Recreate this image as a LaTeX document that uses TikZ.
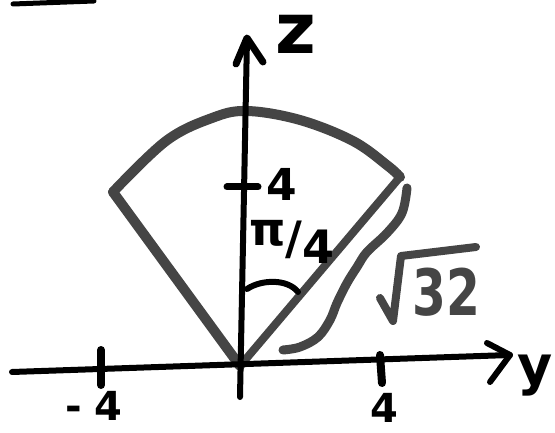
\documentclass[tikz,border=0pt]{standalone}
\usepackage{fontspec}
\setmainfont{DejaVu Sans}
\definecolor{inkgray}{HTML}{454545}
\tikzset{
  ax/.style={line width=6pt, line cap=round, line join=round, black},
  tickmark/.style={line width=8pt, line cap=round, black},
  pen/.style={line width=10pt, line cap=round, line join=round, inkgray},
  lab/.style={inner sep=0pt, font=\bfseries\fontsize{44}{48}\selectfont},
}
\begin{document}
\begin{tikzpicture}[x=1pt, y=-1pt]
\useasboundingbox (0,0) rectangle (555,433);
% named points
\coordinate (O) at (240,366);
\coordinate (L) at (113,192);
\coordinate (R) at (400,177);
\coordinate (T) at (247,111);
\coordinate (a1) at (166,141);
\coordinate (a2) at (212,118);
\coordinate (a3) at (300,120);
\coordinate (a4) at (353,141);
\coordinate (a5) at (388,166);
\coordinate (zb) at (240,397);
\coordinate (zt) at (247,38);
\coordinate (zbl) at (236,64);
\coordinate (zbr) at (263,62);
\coordinate (yl) at (12,372);
\coordinate (yr) at (510,355);
\coordinate (ybu) at (487,343);
\coordinate (ybd) at (490,382);
\coordinate (tm1) at (101,350);
\coordinate (tm2) at (101,385);
\coordinate (tp1) at (380,355);
\coordinate (tp2) at (382,383);
\coordinate (tz1) at (227,187);
\coordinate (tz2) at (258,187);
\coordinate (g1) at (247,289);
\coordinate (g2) at (298,292);
\coordinate (s1) at (13,4);
\coordinate (s2) at (94,1);
% sector
\draw[pen] plot[smooth, tension=0.6] coordinates {(L) (a1) (a2) (T) (a3) (a4) (a5) (R)};
\draw[pen] (L) -- (O);
\draw[pen, line width=8pt] (R) -- (O);
% wavy bracket
\draw[pen, line width=9pt] plot[smooth, tension=0.6] coordinates
  {(407,188) (402,213) (387,233) (367,252) (357,267) (347,283) (337,303) (330,320) (318,337) (300,347) (283,350)};
% radical and 32
\draw[pen, line width=8pt] (380,298) -- (393,321) -- (401,256) -- (476,247);
\node[lab, inkgray, font=\bfseries\fontsize{64}{66}\selectfont, xscale=0.76] (n32) at (446,292) {32};
% axes
\draw[ax] (yl) -- (yr);
\draw[ax] (ybu) -- (yr) -- (ybd);
\draw[ax] (zb) -- (zt);
\draw[ax, line width=7pt] (zbl) -- (zt) -- (zbr);
% ticks
\draw[tickmark] (tm1) -- (tm2);
\draw[tickmark] (tp1) -- (tp2);
\draw[tickmark, line width=7pt] (tz1) -- (tz2);
% angle mark
\draw[ax] (g1) .. controls (262,279) and (288,279) .. (g2);
% top-left stroke
\draw[ax, line width=5pt] (s1) -- (s2);
% labels
\node[lab, font=\bfseries\fontsize{70}{72}\selectfont] (zlab) at (296,34) {z};
\node[lab, font=\bfseries\fontsize{54}{56}\selectfont] (ylab) at (535,376) {y};
\node[lab, font=\bfseries\fontsize{40}{42}\selectfont] (m4) at (94,406) {-\hspace{12pt}4};
\node[lab, font=\bfseries\fontsize{40}{42}\selectfont] (p4) at (384,408) {4};
\node[lab] (z4) at (282,184) {4};
\node[lab, font=\bfseries\fontsize{46}{48}\selectfont] (ang) at (292,242) {\raisebox{9pt}{π}/\raisebox{-9pt}{4}};
\end{tikzpicture}
\end{document}
